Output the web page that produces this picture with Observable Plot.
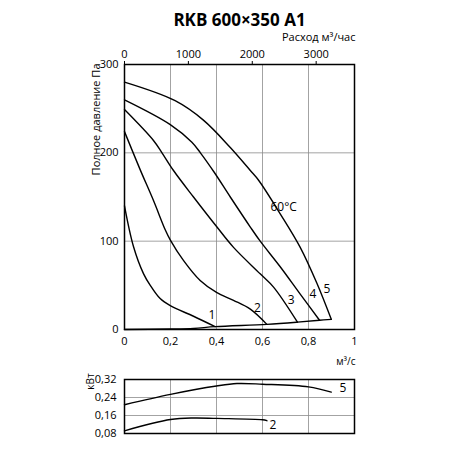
<!DOCTYPE html>
<html><head><meta charset="utf-8">
<script src="https://cdn.jsdelivr.net/npm/d3@7"></script>
<script src="https://cdn.jsdelivr.net/npm/@observablehq/plot@0.6"></script>
<style>
body{margin:0;background:#fff;}
#chart{width:450px;height:450px;}
#chart svg{display:block;}
</style></head><body><div id="chart"></div>
<script>
// ---- data (flow in m³/s, pressure in Pa) ----
const title = "RKB 600×350 A1";
const curve1 = [[0,140],[0.039,94],[0.083,63],[0.112,50],[0.155,35],[0.199,27],[0.30,15],[0.394,3.2]];
const curve2 = [[0,224],[0.068,181],[0.126,146],[0.177,113],[0.2,101],[0.257,78],[0.329,55.5],[0.4,42],[0.474,33],[0.547,23],[0.619,5.8]];
const curve3 = [[0,249],[0.126,214],[0.163,200],[0.213,180],[0.3,150],[0.402,116],[0.474,93],[0.59,63],[0.648,48],[0.752,8.3]];
const curve4 = [[0,260],[0.199,232],[0.293,212],[0.33,200],[0.39,178],[0.46,150],[0.547,116],[0.59,100],[0.677,71],[0.764,40],[0.848,10.5]];
const curve5 = [[0,280],[0.22,259],[0.343,237],[0.46,206],[0.547,180],[0.583,169],[0.677,131],[0.764,93],[0.837,52],[0.899,11.5]];
const systemCurve = [[0,0],[0.2,0.5],[0.3,1.2],[0.394,3.2],[0.619,5.8],[0.752,8.3],[0.848,10.5],[0.899,11.5]];
const curveLabels = ["1","2","3","4","5","60°C"];
const labelQ = [0.38,0.578,0.725,0.819,0.88,0.692];
const labelP = [15.8,23.8,33.6,40,46,138];
const xTicks = [0,0.2,0.4,0.6,0.8,1];
const yTicks = [0,100,200,300];
const topTicks = [0,1000,2000,3000]; // m³/h
// power (kW)
const power5 = [[0,0.208],[0.2,0.254],[0.4,0.291],[0.489,0.302],[0.6,0.299],[0.8,0.287],[0.899,0.264]];
const power2 = [[0,0.092],[0.2,0.142],[0.3,0.149],[0.4,0.147],[0.6,0.141],[0.619,0.137]];
const powerLabels = ["5","2"];
const powerLabelQ = [0.95,0.645];
const powerLabelP = [0.28,0.115];
const powerTicks = [0.08,0.16,0.24,0.32];

const fmt = d => String(d).replace(".", ",");
const font = "'Open Sans', sans-serif";

const rows = [[1,curve1],[2,curve2],[3,curve3],[4,curve4],[5,curve5]]
  .flatMap(([id, pts]) => pts.map(([q,p]) => ({id, q, p})));
const sysRows = systemCurve.map(([q,p]) => ({q,p}));
const labRows = curveLabels.map((t,i) => ({t, q: labelQ[i], p: labelP[i]}));
const pRows = [[5,power5],[2,power2]].flatMap(([id,pts]) => pts.map(([q,w]) => ({id,q,w})));
const pLabRows = powerLabels.map((t,i) => ({t, q: powerLabelQ[i], w: powerLabelP[i]}));

const main = Plot.plot({
  width: 450, height: 370,
  marginTop: 64, marginBottom: 41, marginLeft: 124, marginRight: 96,
  style: {fontFamily: font, fontSize: "11px", color: "black", background: "white"},
  x: {domain: [0,1]},
  y: {domain: [0,300]},
  marks: [
    Plot.gridX(xTicks.slice(1,-1), {stroke: "#8c8c8c", strokeOpacity: 1, strokeWidth: 0.8}),
    Plot.gridY(yTicks.slice(1,-1), {stroke: "#8c8c8c", strokeOpacity: 1, strokeWidth: 0.8}),
    Plot.line(sysRows, {x: "q", y: "p", curve: "catmull-rom", stroke: "black", strokeWidth: 1.4}),
    Plot.line(rows, {x: "q", y: "p", z: "id", curve: "catmull-rom", stroke: "black", strokeWidth: 1.4}),
    Plot.text(labRows, {x: "q", y: "p", text: "t", fontSize: 12}),
    Plot.frame({stroke: "black", strokeWidth: 1.5}),
    Plot.axisX({ticks: xTicks, tickSize: 0, tickPadding: 8, tickFormat: fmt, label: null, fontSize: 11}),
    Plot.axisX({anchor: "top", ticks: topTicks.map(v => v/3600), tickSize: 4, tickPadding: 3,
      tickFormat: d => String(Math.round(d*3600)), label: null, fontSize: 11}),
    Plot.axisY({ticks: yTicks, tickSize: 0, tickPadding: 6, label: null, fontSize: 11}),
    Plot.text([title], {frameAnchor: "top", dy: -51, text: d => d, fontSize: 17, fontWeight: "bold", fontFamily: "'Open Sans', sans-serif", style: "letter-spacing:1px"}),
    Plot.text(["Расход м³/час"], {frameAnchor: "top-right", dy: -31, dx: 1, textAnchor: "end", text: d => d, fontSize: 11}),
    Plot.text(["Полное давление Па"], {frameAnchor: "top-left", dx: -32, dy: -1, rotate: -90, textAnchor: "end", text: d => d, fontSize: 11}),
    Plot.text(["м³/с"], {frameAnchor: "bottom-right", dy: 35, dx: 1, textAnchor: "end", text: d => d, fontSize: 10})
  ]
});

const power = Plot.plot({
  width: 450, height: 80,
  marginTop: 9, marginBottom: 17, marginLeft: 124, marginRight: 96,
  style: {fontFamily: font, fontSize: "11px", color: "black", background: "white"},
  x: {domain: [0,1]},
  y: {domain: [0.08,0.32]},
  marks: [
    Plot.gridX(xTicks.slice(1,-1), {stroke: "#8c8c8c", strokeOpacity: 1, strokeWidth: 0.8}),
    Plot.gridY(powerTicks.slice(1,-1), {stroke: "#8c8c8c", strokeOpacity: 1, strokeWidth: 0.8}),
    Plot.line(pRows, {x: "q", y: "w", z: "id", curve: "catmull-rom", stroke: "black", strokeWidth: 1.4}),
    Plot.text(pLabRows, {x: "q", y: "w", text: "t", fontSize: 12}),
    Plot.frame({stroke: "black", strokeWidth: 1.5}),
    Plot.axisX({ticks: [], label: null}),
    Plot.axisY({ticks: powerTicks, tickSize: 0, tickPadding: 8, tickFormat: fmt, label: null, fontSize: 11}),
    Plot.text(["кВт"], {frameAnchor: "top-left", dx: -38, dy: 2, rotate: -90, textAnchor: "middle", text: d => d, fontSize: 10})
  ]
});

const el = document.getElementById("chart");
el.append(main, power);
</script></body></html>
